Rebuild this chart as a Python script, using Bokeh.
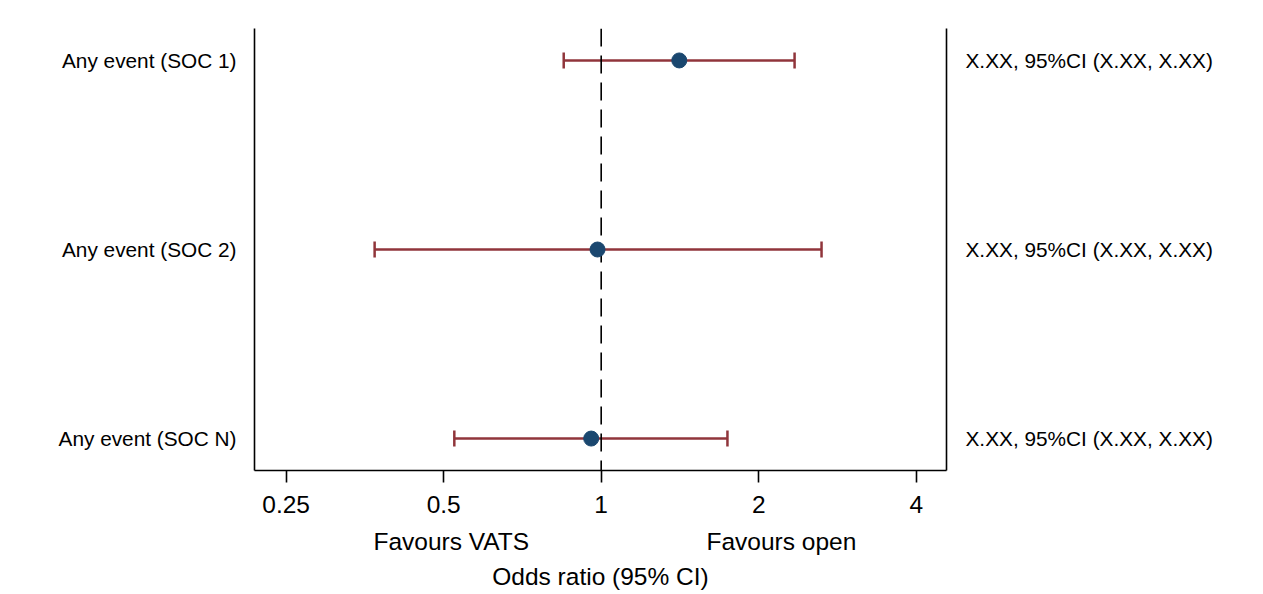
import math
from bokeh.plotting import figure
from bokeh.models import (ColumnDataSource, Range1d, LinearAxis, LogAxis, FixedTicker,
                          Span, Whisker, TeeHead)
from bokeh.embed import file_html
from bokeh.resources import INLINE

# ---- data ----
outcomes = ["Any event (SOC 1)", "Any event (SOC 2)", "Any event (SOC N)"]
odds_ratio = [1.41, 0.984, 0.957]
ci_lower = [0.848, 0.369, 0.524]
ci_upper = [2.342, 2.637, 1.743]
estimate_text = ["X.XX, 95%CI (X.XX, X.XX)", "X.XX, 95%CI (X.XX, X.XX)", "X.XX, 95%CI (X.XX, X.XX)"]
x_ticks = [0.25, 0.5, 1, 2, 4]
x_tick_labels = ["0.25", "0.5", "1", "2", "4"]
favours_labels = ["Favours VATS", "Favours open"]
favours_at = [0.517, 2.21]
x_title = "Odds ratio (95% CI)"
null_value = 1

rows = list(range(1, len(outcomes) + 1))

MAROON = "#90353B"
NAVY = "#1A476F"
FONT = "Liberation Sans"

X_START, X_END = 0.2175, 4.57
Y_TOP, Y_BOTTOM = 0.831, 3.169
FRAME_L, FRAME_R, FRAME_T, FRAME_B = 254, 946, 28, 470

p = figure(width=1263, height=594, x_axis_type="log",
           x_range=Range1d(X_START, X_END), y_range=Range1d(Y_BOTTOM, Y_TOP),
           output_backend="svg", toolbar_location=None,
           min_border_left=FRAME_L, min_border_right=1263 - FRAME_R,
           min_border_top=FRAME_T, min_border_bottom=594 - FRAME_B)
p.outline_line_color = None
p.xgrid.visible = False
p.ygrid.visible = False
p.background_fill_color = "white"
p.border_fill_color = "white"

# bottom axis
xa = p.xaxis[0]
xa.ticker = FixedTicker(ticks=x_ticks)
xa.major_label_overrides = {t: l for t, l in zip(x_ticks, x_tick_labels)}
xa.minor_tick_line_color = None
xa.major_tick_in = 0
xa.major_tick_out = 12
xa.major_tick_line_width = 1.6
xa.major_tick_line_color = "black"
xa.axis_line_width = 1.6
xa.axis_line_color = "black"
xa.major_label_standoff = 13
xa.major_label_text_font = FONT
xa.major_label_text_font_size = "24.5px"
xa.major_label_text_color = "black"

# second bottom axis: favours text + title
xb = LogAxis(ticker=FixedTicker(ticks=favours_at),
             major_label_overrides={t: l for t, l in zip(favours_at, favours_labels)},
             axis_label=x_title)
xb.axis_line_color = None
xb.major_tick_line_color = None
xb.minor_tick_line_color = None
xb.major_tick_in = 0
xb.major_tick_out = 0
xb.major_label_standoff = 12
xb.major_label_text_font = FONT
xb.major_label_text_font_size = "24.5px"
xb.major_label_text_color = "black"
xb.axis_label_standoff = 5
xb.axis_label_text_font = FONT
xb.axis_label_text_font_size = "24.5px"
xb.axis_label_text_font_style = "normal"
xb.axis_label_text_color = "black"
p.add_layout(xb, "below")

# left axis with outcome labels
ya = p.yaxis[0]
ya.ticker = FixedTicker(ticks=rows)
ya.major_label_overrides = {r: o for r, o in zip(rows, outcomes)}
ya.major_tick_line_color = None
ya.minor_tick_line_color = None
ya.axis_line_width = 1.6
ya.axis_line_color = "black"
ya.major_label_standoff = 12
ya.major_label_text_font = FONT
ya.major_label_text_font_size = "20.8px"
ya.major_label_text_color = "black"

# right axis with estimate text
ra = LinearAxis(ticker=FixedTicker(ticks=rows),
                major_label_overrides={r: t for r, t in zip(rows, estimate_text)})
ra.major_tick_line_color = None
ra.minor_tick_line_color = None
ra.axis_line_width = 1.6
ra.axis_line_color = "black"
ra.major_label_standoff = 13
ra.major_label_text_font = FONT
ra.major_label_text_font_size = "20.8px"
ra.major_label_text_color = "black"
p.add_layout(ra, "right")

src = ColumnDataSource(dict(y=rows, lo=ci_lower, hi=ci_upper, est=odds_ratio))

w = Whisker(base="y", lower="lo", upper="hi", dimension="width", source=src,
            line_color=MAROON, line_width=2.5, level="underlay",
            upper_head=TeeHead(size=16, line_color=MAROON, line_width=2.5),
            lower_head=TeeHead(size=16, line_color=MAROON, line_width=2.5))
p.add_layout(w)

span = Span(location=null_value, dimension="height", line_color="black",
            line_width=1.6, line_dash="18 9", level="underlay")
p.add_layout(span)

p.scatter(x="est", y="y", source=src, size=15, fill_color=NAVY, line_color=NAVY)

open("out.html", "w").write(file_html(p, INLINE))
